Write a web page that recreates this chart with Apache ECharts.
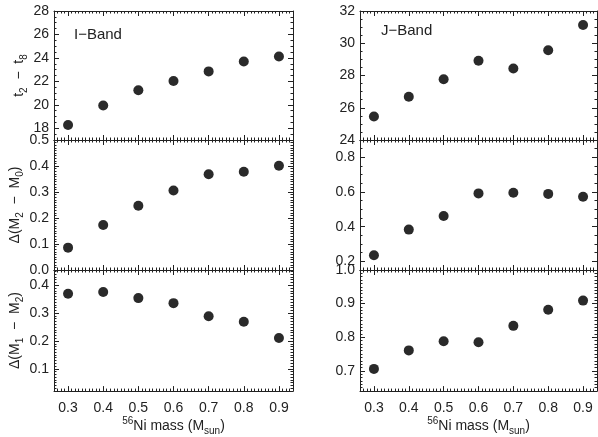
<!DOCTYPE html>
<html>
<head>
<meta charset="utf-8">
<script src="https://cdn.jsdelivr.net/npm/echarts@6/dist/echarts.min.js"></script>
<style>
html,body{margin:0;padding:0;background:#fff;}
#chart{width:598px;height:437px;}
</style>
</head>
<body>
<div id="chart"></div>
<script>
// ---- data ----
const nickelMass = [0.3, 0.4, 0.5, 0.6, 0.7, 0.8, 0.9];
const iBandT2T8  = [18.28, 19.94, 21.24, 22.03, 22.85, 23.70, 24.12];
const iBandDM2M0 = [0.086, 0.173, 0.247, 0.306, 0.368, 0.378, 0.401];
const iBandDM1M2 = [0.370, 0.376, 0.354, 0.336, 0.289, 0.269, 0.211];
const jBandT2T8  = [25.46, 26.68, 27.77, 28.92, 28.43, 29.57, 31.13];
const jBandDM2M0 = [0.235, 0.383, 0.462, 0.592, 0.596, 0.589, 0.573];
const jBandDM1M2 = [0.706, 0.761, 0.788, 0.785, 0.834, 0.882, 0.909];

// tick labels
const xTicks    = [0.3, 0.4, 0.5, 0.6, 0.7, 0.8, 0.9];
const yTicksIT  = [18, 20, 22, 24, 26, 28];
const yTicksIM0 = [0.0, 0.1, 0.2, 0.3, 0.4, 0.5];
const yTicksIM1 = [0.1, 0.2, 0.3, 0.4];
const yTicksJT  = [24, 26, 28, 30, 32];
const yTicksJM0 = [0.2, 0.4, 0.6, 0.8];
const yTicksJM1 = [0.7, 0.8, 0.9, 1.0];

const bandLabels = ['I\u2212Band', 'J\u2212Band'];

// ---- styling / layout ----
const INK = '#222';
const FONT = 'Liberation Sans, Arial, sans-serif';
const richName = {
  n: {fontSize: 14, lineHeight: 20, color: INK, fontFamily: FONT},
  s: {fontSize: 10, lineHeight: 10, verticalAlign: 'bottom', color: INK, fontFamily: FONT},
  p: {fontSize: 10, lineHeight: 10, verticalAlign: 'top', color: INK, fontFamily: FONT}
};

const panels = [
  {col: 0, row: 0, data: iBandT2T8,  ymin: 17,   ymax: 28,    ticks: yTicksIT,  minor: 0.5,  dec: 0,
   name: '{n|t}{s|2}{n|  \u2212  t}{s|8}', gap: 17},
  {col: 0, row: 1, data: iBandDM2M0, ymin: 0,    ymax: 0.5,   ticks: yTicksIM0, minor: 0.01, dec: 1,
   name: '{n|\u0394(M}{s|2}{n|  \u2212  M}{s|0}{n|)}', gap: 27},
  {col: 0, row: 2, data: iBandDM1M2, ymin: 0.02, ymax: 0.455, ticks: yTicksIM1, minor: 0.01, dec: 1,
   name: '{n|\u0394(M}{s|1}{n|  \u2212  M}{s|2}{n|)}', gap: 27},
  {col: 1, row: 0, data: jBandT2T8,  ymin: 24,   ymax: 32,    ticks: yTicksJT,  minor: 0.5,  dec: 0, name: ''},
  {col: 1, row: 1, data: jBandDM2M0, ymin: 0.15, ymax: 0.9,   ticks: yTicksJM0, minor: 0.05, dec: 1, name: ''},
  {col: 1, row: 2, data: jBandDM1M2, ymin: 0.64, ymax: 1.0,   ticks: yTicksJM1, minor: 0.01, dec: 1, name: ''}
];
const colLeft = [54, 360], colWidth = [239, 237];
const rowTop = [11, 140, 270], rowHeight = [129, 130, 129];
const XMIN = 0.26, XMAX = 0.94;

const grids = [], xAxes = [], yAxes = [], series = [];
panels.forEach(function (p, i) {
  grids.push({left: colLeft[p.col], top: rowTop[p.row], width: colWidth[p.col], height: rowHeight[p.row], containLabel: false});
  const bottomRow = p.row === 2;
  // x axes: bottom major, top major, bottom minor, top minor
  ['bottom', 'top'].forEach(function (pos) {
    xAxes.push({
      type: 'value', gridIndex: i, position: pos, min: XMIN, max: XMAX,
      axisLine: {show: true, onZero: false, lineStyle: {color: INK, width: 1}},
      axisTick: {show: true, inside: true, length: 5, customValues: xTicks, lineStyle: {color: INK}},
      axisLabel: {show: pos === 'bottom' && bottomRow, customValues: xTicks, margin: 10,
        fontSize: 14, color: INK, fontFamily: FONT,
        formatter: function (v) { return v.toFixed(1); }},
      splitLine: {show: false},
      name: (pos === 'bottom' && bottomRow) ? '{p|56}{n|Ni mass (M}{s|sun}{n|)}' : '',
      nameLocation: 'middle', nameGap: 23,
      nameTextStyle: {rich: richName}
    });
  });
  ['bottom', 'top'].forEach(function (pos) {
    xAxes.push({
      type: 'value', gridIndex: i, position: pos, min: XMIN, max: XMAX, interval: 0.01,
      axisLine: {show: false, onZero: false},
      axisTick: {show: true, inside: true, length: 2.5, lineStyle: {color: INK}},
      axisLabel: {show: false}, splitLine: {show: false}
    });
  });
  // y axes: left major, right major, left minor, right minor
  ['left', 'right'].forEach(function (pos) {
    yAxes.push({
      type: 'value', gridIndex: i, position: pos, min: p.ymin, max: p.ymax,
      axisLine: {show: true, onZero: false, lineStyle: {color: INK, width: 1}},
      axisTick: {show: true, inside: true, length: 5, customValues: p.ticks, lineStyle: {color: INK}},
      axisLabel: {show: pos === 'left', customValues: p.ticks, margin: 5,
        fontSize: 14, color: INK, fontFamily: FONT,
        formatter: (function (d) { return function (v) { return v.toFixed(d); }; })(p.dec)},
      splitLine: {show: false},
      name: pos === 'left' ? p.name : '',
      nameLocation: 'middle', nameRotate: 90, nameGap: p.gap || 20,
      nameTextStyle: {rich: richName}
    });
  });
  ['left', 'right'].forEach(function (pos) {
    yAxes.push({
      type: 'value', gridIndex: i, position: pos, min: p.ymin, max: p.ymax, interval: p.minor,
      axisLine: {show: false, onZero: false},
      axisTick: {show: true, inside: true, length: 2.5, lineStyle: {color: INK}},
      axisLabel: {show: false}, splitLine: {show: false}
    });
  });
  series.push({
    type: 'scatter', xAxisIndex: 4 * i, yAxisIndex: 4 * i,
    symbol: 'circle', symbolSize: 10,
    itemStyle: {color: '#2a2a2a', opacity: 1},
    data: nickelMass.map(function (x, k) { return [x, p.data[k]]; }),
    silent: true
  });
});

const chart = echarts.init(document.getElementById('chart'), null, {renderer: 'canvas'});
chart.setOption({
  backgroundColor: '#fff',
  animation: false,
  grid: grids,
  xAxis: xAxes,
  yAxis: yAxes,
  series: series,
  graphic: [
    {type: 'text', left: 74, top: 27, style: {text: bandLabels[0], fontSize: 15, fill: INK, fontFamily: FONT}},
    {type: 'text', left: 381, top: 23, style: {text: bandLabels[1], fontSize: 15, fill: INK, fontFamily: FONT}}
  ]
});
</script>
</body>
</html>
